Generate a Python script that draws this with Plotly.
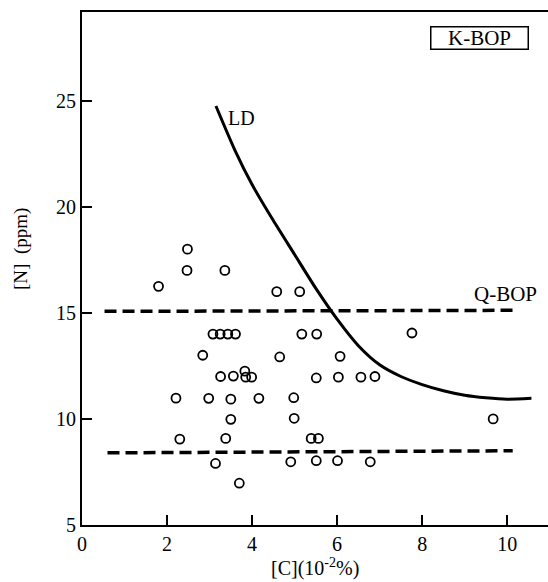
import plotly.graph_objects as go

# ---- data ----
C_pts = [1.80, 2.48, 2.47, 3.36, 4.58, 5.12,
         3.08, 3.25, 3.43, 3.61, 5.17, 5.52, 7.76,
         2.84, 4.65, 6.07,
         3.26, 3.56, 3.83, 3.85, 3.99, 5.51, 6.03, 6.56, 6.89,
         2.21, 2.98, 3.50, 4.16, 4.98,
         3.50, 4.99, 9.67,
         2.30, 3.38, 5.39, 5.56,
         3.14, 4.91, 5.51, 6.01, 6.78,
         3.70]
N_pts = [16.25, 18.0, 17.0, 17.0, 16.0, 16.0,
         14.0, 14.0, 14.0, 14.0, 14.0, 14.0, 14.05,
         13.0, 12.92, 12.95,
         12.0, 12.02, 12.25, 11.97, 11.97, 11.93, 11.97, 11.97, 12.0,
         10.98, 10.97, 10.93, 10.97, 11.0,
         9.98, 10.03, 10.0,
         9.05, 9.08, 9.08, 9.08,
         7.9, 7.98, 8.03, 8.03, 7.98,
         6.97]

LD_C = [3.15, 3.6, 4.0, 4.5, 5.0, 5.5, 6.0, 6.5, 7.0, 7.5, 8.0, 8.5, 9.0, 9.5, 10.0, 10.57]
LD_N = [24.75, 22.65, 21.05, 19.35, 17.75, 16.15, 14.7, 13.45, 12.55, 12.0, 11.62, 11.33, 11.12, 11.0, 10.93, 10.97]

QBOP_upper_C = [0.53, 10.13]
QBOP_upper_N = [15.07, 15.12]
QBOP_lower_C = [0.60, 10.13]
QBOP_lower_N = [8.40, 8.50]

x_ticks = [0, 2, 4, 6, 8, 10]
y_ticks = [5, 10, 15, 20, 25]

FONT = "Liberation Serif"

fig = go.Figure()

for xs, ys in [(QBOP_upper_C, QBOP_upper_N), (QBOP_lower_C, QBOP_lower_N)]:
    fig.add_trace(go.Scatter(x=xs, y=ys, mode="lines",
                             line=dict(color="black", width=3.5, dash="12px,6px"),
                             showlegend=False, hoverinfo="skip"))

fig.add_trace(go.Scatter(x=LD_C, y=LD_N, mode="lines",
                         line=dict(color="black", width=3, shape="spline", smoothing=0.7),
                         showlegend=False))

fig.add_trace(go.Scatter(x=C_pts, y=N_pts, mode="markers",
                         marker=dict(symbol="circle-open", size=9, color="black",
                                     line=dict(width=1.8, color="black")),
                         showlegend=False))

fig.update_layout(
    width=548, height=582,
    margin=dict(l=82, r=0, t=12, b=57),
    paper_bgcolor="white", plot_bgcolor="white",
    font=dict(family=FONT, color="black", size=20),
    xaxis=dict(range=[0, 10.96], tickvals=x_ticks, ticks="inside", ticklen=10, tickwidth=1.5,
               tickcolor="black", showline=True, linecolor="black", linewidth=2, mirror=True,
               showgrid=False, zeroline=False, tickfont=dict(family=FONT, size=20)),
    yaxis=dict(range=[5, 29.18], tickvals=y_ticks, ticks="inside", ticklen=10, tickwidth=1.5,
               tickcolor="black", showline=True, linecolor="black", linewidth=2,
               showgrid=False, zeroline=False, tickfont=dict(family=FONT, size=20)),
    annotations=[
        dict(x=3.75, y=24.2, xref="x", yref="y", text="LD", showarrow=False,
             xanchor="center", yanchor="middle", font=dict(family=FONT, size=20)),
        dict(x=9.95, y=15.9, xref="x", yref="y", text="Q-BOP", showarrow=False,
             xanchor="center", yanchor="middle", font=dict(family=FONT, size=21)),
        dict(x=9.36, y=27.97, xref="x", yref="y", text="K-BOP", showarrow=False,
             xanchor="center", yanchor="middle",
             font=dict(family=FONT, size=21), bordercolor="black", borderwidth=1.5,
             borderpad=1, width=94, height=19, bgcolor="white"),
        dict(x=-0.131, y=0.538, xref="paper", yref="paper", text="[N]  (ppm)",
             xanchor="center", yanchor="middle",
             showarrow=False, textangle=-90, font=dict(family=FONT, size=19)),
        dict(x=0.5, y=-0.111, xref="paper", yref="paper",
             xanchor="center", yanchor="bottom",
             text="[C](10<sup>-2</sup>%)", showarrow=False,
             font=dict(family=FONT, size=20)),
    ],
)

fig.write_html("out.html")
